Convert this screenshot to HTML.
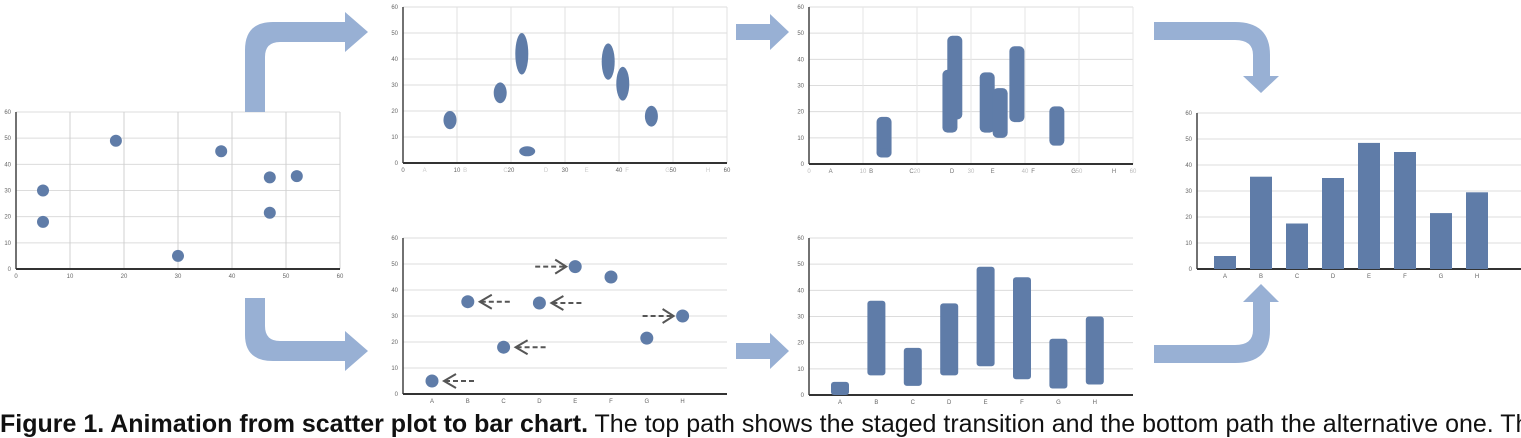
<!DOCTYPE html>
<html><head><meta charset="utf-8"><style>
body{margin:0;background:#fff;width:1521px;height:430px;overflow:hidden;font-family:"Liberation Sans",sans-serif}
svg{position:absolute;left:0;top:0}
#cap{position:absolute;left:0;top:410px;font-size:25px;white-space:nowrap;color:#111;line-height:28px}
</style></head><body>
<svg id="fig" width="1521" height="430" xmlns="http://www.w3.org/2000/svg"></svg>
<div id="cap"><b>Figure 1. Animation from scatter plot to bar chart.</b> The top path shows the staged transition and the bottom path the alternative one. The</div>
<script>
const yTicks=[0,10,20,30,40,50,60];
const xTicks=[0,10,20,30,40,50,60];
const cats=["A","B","C","D","E","F","G","H"];
// panel 1 scatter
const scX=[5,5,18.5,30,38,47,47,52];
const scY=[30,18,49,5,45,35,21.5,35.5];
// panel 2 stretched blobs (x, yLow, yHigh)
const blX=[8.7,18,22,23,38,40.7,46];
const blLo=[13,23,34,3,32,24,14];
const blHi=[20,31,50,6,46,37,22];
// panel 3 growing bars
const g3X=[13.9,13.9,26.1,27,33,35.4,38.5,45.9];
const g3Lo=[2.5,2.5,12,17,12,10,16,7];
const g3Hi=[18,6,36,49,35,29,45,22];
// panel 4 dots moved to categories
const mvCat=[0,1,2,3,4,5,6,7];
const mvY=[5,35.5,18,35,49,45,21.5,30];
const arrowDir=[-1,-1,-1,-1,1,0,0,1];
// panel 5 stretched bars
const sbLo=[0,7.5,3.5,7.5,11,6,2.5,4];
const sbHi=[5,36,18,35,49,45,21.5,30];
// panel 6 final bars
const barVals=[5,35.5,17.5,35,48.5,45,21.5,29.5];

const svg=document.getElementById('fig');
const NS='http://www.w3.org/2000/svg';
function mk(t,a,p){const e=document.createElementNS(NS,t);for(const k in a)e.setAttribute(k,a[k]);(p||svg).appendChild(e);return e;}
const BLUE='#5f7ca8', ARW='#98b0d4';

function panel(name,x0,x1,yb,yt,opts){
  const g=mk('g',{});
  
  
  const ys=v=>yb-(v/60)*(yb-yt);
  const xs=v=>x0+(v/60)*(x1-x0);
  yTicks.forEach(t=>{
    const l=mk('line',{x1:x0,x2:x1,y1:ys(t),y2:ys(t),stroke:'#dcdcdc','stroke-width':1},g);
    
    const tx=mk('text',{x:x0-5,y:ys(t)+2,'font-size':6,'text-anchor':'end',fill:'#666'},g);
    
    tx.textContent=t;
  });
  if(opts.xgrid){xTicks.forEach(t=>{
    const l=mk('line',{x1:xs(t),x2:xs(t),y1:yt,y2:yb,stroke:opts.xgridc||'#d0d0d0','stroke-width':1},g);
    
  });}
  if(opts.xnum){xTicks.forEach(t=>{
    const tx=mk('text',{x:xs(t),y:yb+9,'font-size':6,'text-anchor':'middle',fill:opts.xnumc||'#666'},g);
    
    tx.textContent=t;
  });}
  mk('line',{x1:x0,x2:x0,y1:yt,y2:yb,stroke:'#444','stroke-width':1.5},g);
  mk('line',{x1:x0,x2:x1,y1:yb,y2:yb,stroke:'#333','stroke-width':2},g);
  return {g,xs,ys};
}
function catLabels(g,cx,yb,col){cats.forEach((c,i)=>{
  const t=mk('text',{x:cx(i),y:yb+9,'font-size':6,'text-anchor':'middle',fill:col||'#666'},g);
  
  t.textContent=c;});}

// Panel 1
let P=panel('scatter-initial',16,340,269,112,{xgrid:true,xnum:true});
scX.forEach((x,i)=>{const c=mk('circle',{cx:P.xs(x),cy:P.ys(scY[i]),r:6,fill:BLUE},P.g);
});

// Panel 2
P=panel('scatter-stretched',403,727,163,7,{xgrid:true,xnum:true,xgridc:'#e0e0e0'});
catLabels(P.g,i=>P.xs(i*7.5+4),163,'#ccc');
blX.forEach((x,i)=>{const w=(i==3)?8:6.5;const h=(P.ys(blLo[i])-P.ys(blHi[i]))/2;
const e=mk('ellipse',{cx:P.xs(x),cy:(P.ys(blLo[i])+P.ys(blHi[i]))/2,rx:w,ry:Math.max(h,5),fill:BLUE},P.g);
});

// Panel 3
P=panel('bars-growing',809,1133,164,7,{xgrid:true,xnum:true,xgridc:'#e6e6e6',xnumc:'#bbb'});
catLabels(P.g,i=>P.xs(i*7.5+4),164,'#777');
g3X.forEach((x,i)=>{const r=mk('rect',{x:P.xs(x)-7.5,y:P.ys(g3Hi[i]),width:15,height:P.ys(g3Lo[i])-P.ys(g3Hi[i]),rx:5,fill:BLUE},P.g);
});

// Panel 4
P=panel('dots-on-categories',403,727,394,238,{});
let cx4=i=>432+i*35.8;
catLabels(P.g,cx4,394);
mvCat.forEach((c,i)=>{const x=cx4(c),y=P.ys(mvY[i]);
const d=mk('circle',{cx:x,cy:y,r:6.5,fill:BLUE},P.g);

if(arrowDir[i]){const a=mk('g',{stroke:'#555','stroke-width':2,fill:'none'},P.g);

if(arrowDir[i]<0){mk('path',{d:`M${x+24} ${y-7}L${x+12} ${y}L${x+24} ${y+7}`},a);mk('line',{x1:x+13,x2:x+42,y1:y,y2:y,'stroke-dasharray':'5,3'},a);}
else{mk('path',{d:`M${x-20} ${y-7}L${x-9} ${y}L${x-20} ${y+7}`},a);mk('line',{x1:x-40,x2:x-10,y1:y,y2:y,'stroke-dasharray':'5,3'},a);}}
});

// Panel 5
P=panel('bars-stretched',809,1133,395,238,{});
let cx5=i=>840+i*36.4;
catLabels(P.g,cx5,395);
sbLo.forEach((lo,i)=>{const r=mk('rect',{x:cx5(i)-9,y:P.ys(sbHi[i]),width:18,height:P.ys(lo)-P.ys(sbHi[i]),rx:3,fill:BLUE},P.g);
});

// Panel 6
P=panel('bar-chart-final',1197,1521,269,113,{});
let cx6=i=>1225+i*36;
catLabels(P.g,cx6,269);
barVals.forEach((v,i)=>{const r=mk('rect',{x:cx6(i)-11,y:P.ys(v),width:22,height:P.ys(0)-P.ys(v),fill:BLUE},P.g);
});

// big transition arrows
function arr(name,d){const p=mk('path',{d,fill:ARW});}
arr('arrow-top-left','M245 112 L245 50 Q245 22 273 22 L345 22 L345 12 L368 32 L345 52 L345 42 L280 42 Q265 42 265 57 L265 112 Z');
arr('arrow-bottom-left','M245 298 L245 335 Q245 361 273 361 L345 361 L345 371 L368 351 L345 331 L345 341 L280 341 Q265 341 265 326 L265 298 Z');
arr('arrow-top-middle','M736 24 L770 24 L770 14 L789 32 L770 50 L770 40 L736 40 Z');
arr('arrow-bottom-middle','M736 343 L770 343 L770 333 L789 351 L770 369 L770 359 L736 359 Z');
arr('arrow-top-right','M1154 22 L1235 22 Q1270 22 1270 55 L1270 76 L1279 76 L1261 93 L1243 76 L1253 76 L1253 55 Q1253 40 1235 40 L1154 40 Z');
arr('arrow-bottom-right','M1154 363 L1235 363 Q1270 363 1270 330 L1270 302 L1279 302 L1261 284 L1243 302 L1253 302 L1253 330 Q1253 345 1235 345 L1154 345 Z');
</script>
</body></html>
